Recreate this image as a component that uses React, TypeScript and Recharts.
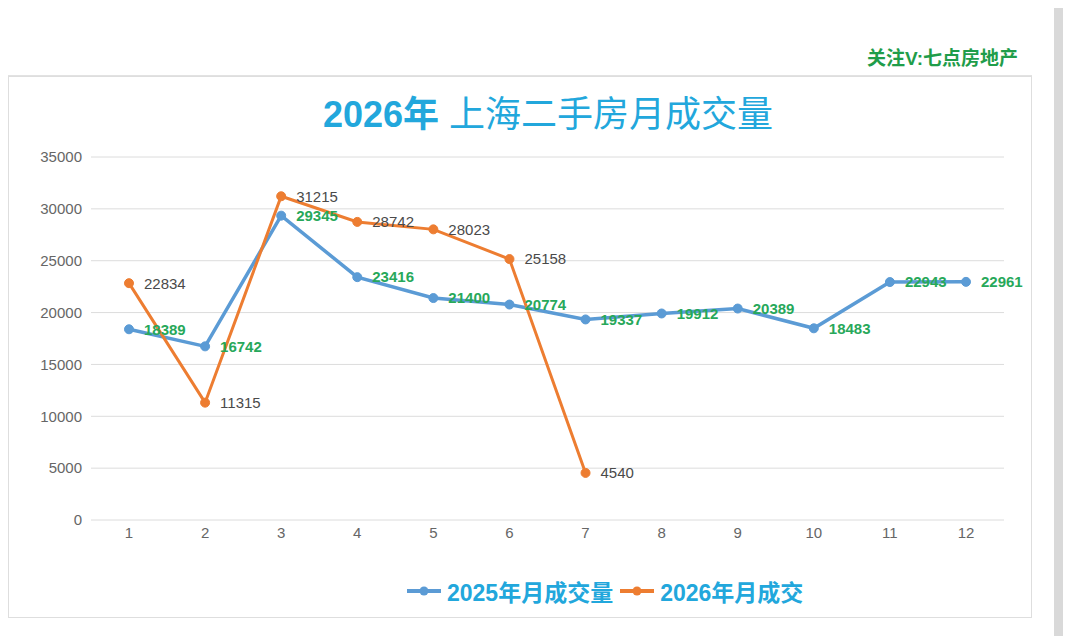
import { LineChart, Line, XAxis, YAxis, CartesianGrid, Legend, LabelList } from 'recharts'

const months = ['1', '2', '3', '4', '5', '6', '7', '8', '9', '10', '11', '12']
const sales2025 = [18389, 16742, 29345, 23416, 21400, 20774, 19337, 19912, 20389, 18483, 22943, 22961]
const sales2026 = [22834, 11315, 31215, 28742, 28023, 25158, 4540]
const yTicks = [0, 5000, 10000, 15000, 20000, 25000, 30000, 35000]

const BLUE = '#5b9bd5'
const ORANGE = '#ed7d31'
const GREEN = '#1f9d4a'
const LABEL_GREEN = '#27a85a'
const CYAN = '#22a7dc'
const FONT = '"Liberation Sans", Arial, "Noto Sans CJK SC", sans-serif'

const data = months.map((m, i) => ({
  month: m,
  y2025: sales2025[i],
  y2026: i < sales2026.length ? sales2026[i] : null,
}))

const legendItems = [
  { name: '2025年月成交量', color: BLUE },
  { name: '2026年月成交', color: ORANGE },
]

const LegendContent = () => (
  <div style={{ display: 'flex', alignItems: 'center', fontFamily: FONT }}>
    {legendItems.map((it) => (
      <div key={it.name} style={{ display: 'flex', alignItems: 'center', marginRight: 7 }}>
        <svg width={34} height={12} style={{ marginRight: 6 }}>
          <line x1={0} y1={6} x2={34} y2={6} stroke={it.color} strokeWidth={4} />
          <circle cx={17} cy={6} r={4.5} fill={it.color} />
        </svg>
        <span style={{ color: CYAN, fontSize: 23, fontWeight: 700 }}>{it.name}</span>
      </div>
    ))}
  </div>
)

const App = () => {
  return (
    <div style={{ position: 'relative', width: 1080, height: 644, margin: -8, background: '#fff', overflow: 'hidden' }}>
      {/* spreadsheet edges behind the chart */}
      <div style={{ position: 'absolute', left: 6, top: 0, width: 1, height: 644, background: '#e2e2e2' }} />
      <div
        style={{
          position: 'absolute', left: 0, top: 74, width: 6, height: 570,
          backgroundImage: 'repeating-linear-gradient(to bottom, #e0e0e0 0px, #e0e0e0 1px, transparent 1px, transparent 31px)',
        }}
      />
      <div style={{ position: 'absolute', left: 0, top: 75, width: 1032, height: 1, background: '#e2e2e2' }} />
      <div style={{ position: 'absolute', left: 1054, top: 0, width: 9, height: 644, background: '#d9d9d9' }} />

      <div
        style={{
          position: 'absolute', right: 62, top: 43, fontFamily: FONT, fontSize: 19, fontWeight: 700, color: GREEN,
        }}
      >
        关注V:七点房地产
      </div>

      <div
        style={{
          position: 'absolute', left: 8, top: 76, width: 1022, height: 540, border: '1px solid #dedede', background: '#fff',
        }}
      >
        <div
          style={{
            position: 'absolute', left: 0, top: 8, width: 1078, textAlign: 'center', fontFamily: FONT, fontSize: 36, color: CYAN,
          }}
        >
          <span style={{ fontWeight: 700 }}>2026年</span> 上海二手房月成交量
        </div>
        <LineChart width={1022} height={540} data={data} margin={{ top: 80, right: 27, left: 0, bottom: 67 }}>
          <CartesianGrid vertical={false} stroke="#dcdcdc" />
          <XAxis
            dataKey="month"
            axisLine={false}
            tickLine={false}
            tickSize={0}
            tickMargin={7}
            padding={{ left: 38, right: 38 }}
            tick={{ fill: '#666666', fontSize: 15, fontFamily: FONT }}
          />
          <YAxis
            width={82}
            domain={[0, 35000]}
            ticks={yTicks}
            axisLine={false}
            tickLine={false}
            tickSize={0}
            tickMargin={9}
            tick={{ fill: '#666666', fontSize: 15, fontFamily: FONT }}
          />
          <Legend
            layout="horizontal"
            verticalAlign="middle"
            align="center"
            wrapperStyle={{ left: 398, top: 497, width: 500 }}
            content={<LegendContent />}
          />
          <Line
            dataKey="y2025"
            stroke={BLUE}
            strokeWidth={3.5}
            dot={{ r: 4.5, fill: BLUE, stroke: BLUE, strokeWidth: 1 }}
            isAnimationActive={false}
          >
            <LabelList dataKey="y2025" position="right" offset={15} fill={LABEL_GREEN} fontSize={15} fontWeight={700} fontFamily={FONT} />
          </Line>
          <Line
            dataKey="y2026"
            stroke={ORANGE}
            strokeWidth={3}
            dot={{ r: 4.5, fill: ORANGE, stroke: ORANGE, strokeWidth: 1 }}
            isAnimationActive={false}
          >
            <LabelList dataKey="y2026" position="right" offset={15} fill="#4a4a4a" fontSize={15} fontFamily={FONT} />
          </Line>
        </LineChart>
      </div>
    </div>
  )
}

export default App
